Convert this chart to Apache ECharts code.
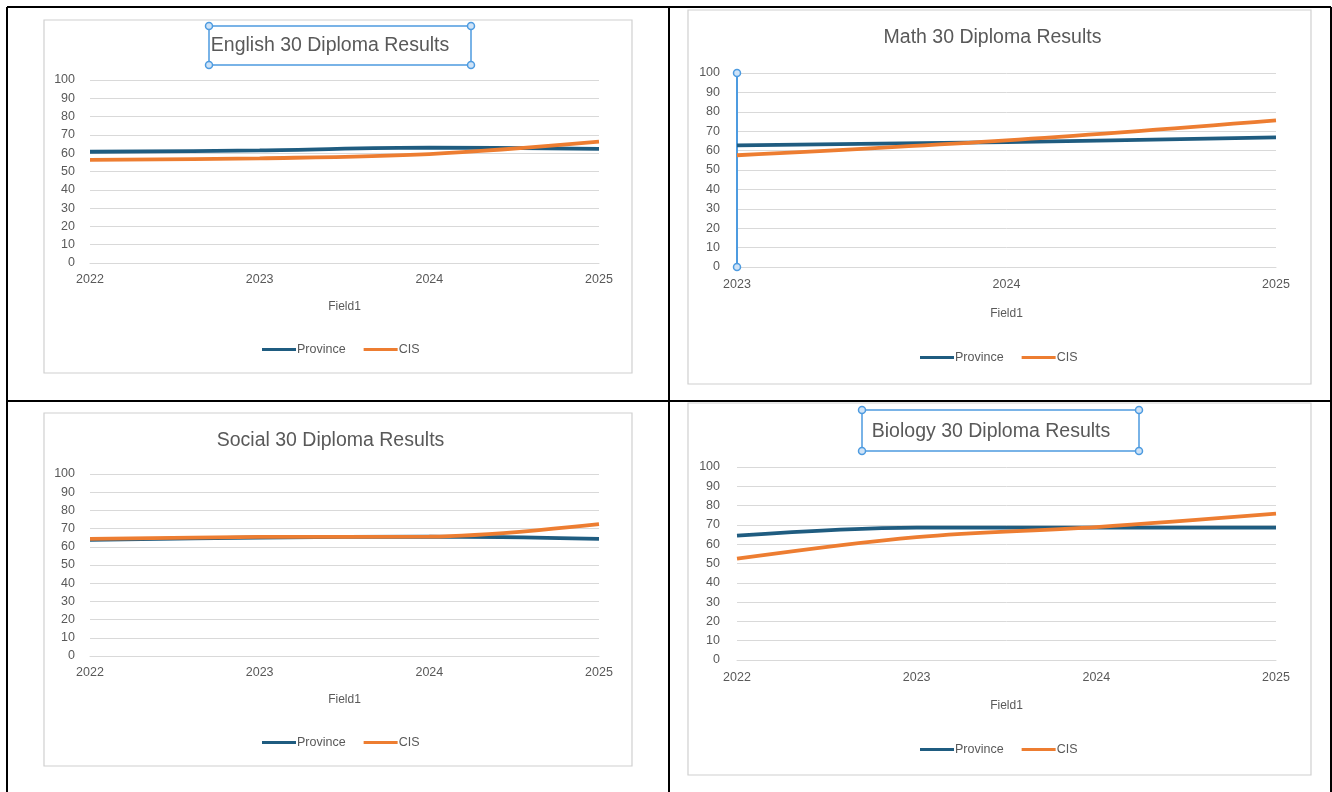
<!DOCTYPE html>
<html>
<head>
    <meta charset="utf-8" />
    <title>Diploma Results</title>
    <script src="https://cdn.jsdelivr.net/npm/echarts@6.0.0/dist/echarts.min.js"></script>
    <style>
        * {
            margin: 0;
            padding: 0;
            box-sizing: border-box;
        }

        body {
            background: #fff;
        }

        #chart {
            width: 1332px;
            height: 792px;
        }
    </style>
</head>
<body>
    <div id="chart"></div>

    <script>
        // data
        const titles = ['English 30 Diploma Results', 'Math 30 Diploma Results', 'Social 30 Diploma Results', 'Biology 30 Diploma Results'];
        const englishYears = ['2022', '2023', '2024', '2025'];
        const mathYears = ['2023', '2024', '2025'];
        const socialYears = ['2022', '2023', '2024', '2025'];
        const biologyYears = ['2022', '2023', '2024', '2025'];

        const englishProvince = [60.8, 61.5, 63.0, 62.4];
        const englishCIS = [56.3, 57.2, 59.5, 66.3];
        const mathProvince = [62.7, 64.4, 66.8];
        const mathCIS = [57.6, 65.3, 75.6];
        const socialProvince = [63.8, 65.1, 65.6, 64.4];
        const socialCIS = [64.4, 65.4, 65.6, 72.4];
        const biologyProvince = [64.4, 68.6, 68.6, 68.6];
        const biologyCIS = [52.5, 63.7, 68.9, 75.8];

        const yTicks = [0, 10, 20, 30, 40, 50, 60, 70, 80, 90, 100];
        const seriesNames = ['Province', 'CIS'];
        const xAxisName = 'Field1';

        const categories = [englishYears, mathYears, socialYears, biologyYears];
        const province = [englishProvince, mathProvince, socialProvince, biologyProvince];
        const cis = [englishCIS, mathCIS, socialCIS, biologyCIS];

        // layout of the four panels
        const FONT = "'Liberation Sans', Arial, sans-serif";
        const TEXT = '#595959';
        const GRID_LINE = '#d9d9d9';
        const BLUE_SEL = '#4d9be0';
        const PROV_COLOR = '#1f5c80';
        const CIS_COLOR = '#ed7d31';

        const panels = [
            { grid: { left: 90, top: 80, width: 509, height: 183 }, title: [325, 31], legend: [257, 338], nameGap: 38, labelMargin: 10, yMargin: 15 },
            { grid: { left: 737, top: 73, width: 539, height: 194 }, title: [987.5, 23], legend: [915, 346], nameGap: 41, labelMargin: 11, yMargin: 17 },
            { grid: { left: 90, top: 474, width: 509, height: 182 }, title: [325.5, 426], legend: [257, 731], nameGap: 38, labelMargin: 10, yMargin: 15 },
            { grid: { left: 737, top: 467, width: 539, height: 193 }, title: [986, 417], legend: [915, 738], nameGap: 40, labelMargin: 11, yMargin: 17 }
        ];

        const chart = echarts.init(document.getElementById('chart'));

        const option = {
            backgroundColor: '#fff',
            animation: false,
            title: panels.map((p, i) => ({
                text: titles[i],
                left: p.title[0],
                top: p.title[1],
                textAlign: 'center',
                textStyle: {
                    color: TEXT,
                    fontFamily: FONT,
                    fontSize: 19.5,
                    fontWeight: 'normal'
                }
            })),
            legend: panels.map((p) => ({
                data: seriesNames,
                left: p.legend[0],
                top: p.legend[1],
                orient: 'horizontal',
                icon: 'rect',
                itemWidth: 34,
                itemHeight: 3,
                itemGap: 18,
                textStyle: {
                    color: TEXT,
                    fontFamily: FONT,
                    fontSize: 12.5,
                    padding: [0, 0, 0, -4]
                }
            })),
            grid: panels.map((p) => Object.assign({ containLabel: false }, p.grid)),
            xAxis: panels.map((p, i) => ({
                type: 'category',
                gridIndex: i,
                data: categories[i],
                boundaryGap: false,
                name: xAxisName,
                nameLocation: 'middle',
                nameGap: p.nameGap,
                nameTextStyle: {
                    color: TEXT,
                    fontFamily: FONT,
                    fontSize: 12
                },
                axisLine: { lineStyle: { color: GRID_LINE, width: 1 } },
                axisTick: { show: false },
                axisLabel: {
                    color: TEXT,
                    fontFamily: FONT,
                    fontSize: 12.5,
                    margin: p.labelMargin
                },
                splitLine: { show: false }
            })),
            yAxis: panels.map((p, i) => ({
                type: 'value',
                gridIndex: i,
                min: yTicks[0],
                max: yTicks[yTicks.length - 1],
                interval: yTicks[1] - yTicks[0],
                axisLine: i === 1
                    ? { show: true, lineStyle: { color: BLUE_SEL, width: 2 } }
                    : { show: false },
                axisTick: { show: false },
                axisLabel: {
                    color: TEXT,
                    fontFamily: FONT,
                    fontSize: 12.5,
                    margin: p.yMargin
                },
                splitLine: { lineStyle: { color: GRID_LINE, width: 1 } }
            })),
            series: []
        };

        panels.forEach((p, i) => {
            option.series.push({
                name: seriesNames[0],
                type: 'line',
                xAxisIndex: i,
                yAxisIndex: i,
                data: province[i],
                smooth: 0.35,
                showSymbol: false,
                itemStyle: { color: PROV_COLOR },
                lineStyle: { color: PROV_COLOR, width: 3.8 },
                z: 3
            });
            option.series.push({
                name: seriesNames[1],
                type: 'line',
                xAxisIndex: i,
                yAxisIndex: i,
                data: cis[i],
                smooth: 0.35,
                showSymbol: false,
                itemStyle: { color: CIS_COLOR },
                lineStyle: { color: CIS_COLOR, width: 3.8 },
                z: 4
            });
        });

        // table borders, chart frames and the selection handles
        function handle(x, y) {
            return {
                type: 'circle',
                shape: { cx: x, cy: y, r: 3.5 },
                style: { fill: '#cfe3f7', stroke: BLUE_SEL, lineWidth: 1.5 },
                z: 100
            };
        }
        function line(x1, y1, x2, y2, color, w) {
            return {
                type: 'line',
                shape: { x1: x1, y1: y1, x2: x2, y2: y2 },
                style: { stroke: color, lineWidth: w },
                z: 90
            };
        }
        function frame(x1, y1, x2, y2) {
            return {
                type: 'rect',
                shape: { x: x1, y: y1, width: x2 - x1, height: y2 - y1 },
                style: { fill: 'none', stroke: '#d0d0d0', lineWidth: 1.2 },
                z: -1
            };
        }
        function selBox(x1, y1, x2, y2) {
            return [
                {
                    type: 'rect',
                    shape: { x: x1, y: y1, width: x2 - x1, height: y2 - y1 },
                    style: { fill: 'none', stroke: BLUE_SEL, lineWidth: 1.5 },
                    z: 99
                },
                handle(x1, y1), handle(x2, y1), handle(x1, y2), handle(x2, y2)
            ];
        }

        const mg = panels[1].grid;
        option.graphic = [
            line(7, 7, 1331, 7, '#000', 2),
            line(7, 7, 7, 792, '#000', 2),
            line(1331, 7, 1331, 792, '#000', 2),
            line(669, 7, 669, 792, '#000', 2),
            line(7, 401, 1331, 401, '#000', 2),
            frame(44, 20, 632, 373),
            frame(688, 10, 1311, 384),
            frame(44, 413, 632, 766),
            frame(688, 403, 1311, 775)
        ]
            .concat(selBox(209, 26, 471, 65))
            .concat(selBox(862, 410, 1139, 451))
            .concat([handle(mg.left, mg.top), handle(mg.left, mg.top + mg.height)]);

        chart.setOption(option);
    </script>
</body>
</html>
